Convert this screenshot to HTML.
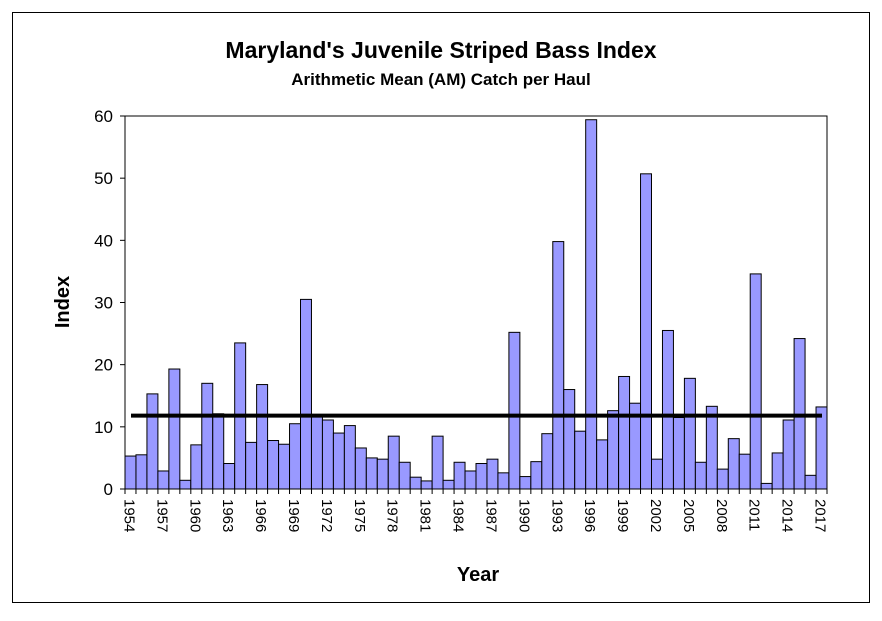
<!DOCTYPE html><html><head><style>body{margin:0;background:#fff}</style></head><body>
<svg width="882" height="616" xmlns="http://www.w3.org/2000/svg" font-family="Liberation Sans, Arial, sans-serif">
<rect x="0" y="0" width="882" height="616" fill="#fff"/>
<rect x="12.5" y="12.5" width="857" height="590" fill="none" stroke="#000" stroke-width="1"/>
<text x="441" y="58" text-anchor="middle" font-size="23" font-weight="bold">Maryland's Juvenile Striped Bass Index</text>
<text x="441" y="85" text-anchor="middle" font-size="17" font-weight="bold">Arithmetic Mean (AM) Catch per Haul</text>
<g id="g"></g>
<text x="478" y="581" text-anchor="middle" font-size="20" font-weight="bold">Year</text>
<text transform="translate(69,302) rotate(-90)" text-anchor="middle" font-size="20" font-weight="bold">Index</text>
</svg>
<script>
var v=[5.3,5.5,15.3,2.9,19.3,1.4,7.1,17.0,12.1,4.1,23.5,7.5,16.8,7.8,7.2,10.5,30.5,11.9,11.1,9.0,10.2,6.6,5.0,4.8,8.5,4.3,1.9,1.3,8.5,1.4,4.3,2.9,4.1,4.8,2.6,25.2,2.0,4.4,8.9,39.8,16.0,9.3,59.4,7.9,12.6,18.1,13.8,50.7,4.8,25.5,11.5,17.8,4.3,13.3,3.2,8.1,5.6,34.6,0.9,5.8,11.1,24.2,2.2,13.2];
var L=125,R=827,T=116,B=489,w=(R-L)/64,s=(B-T)/60,h='';
h+='<rect x="'+L+'" y="'+T+'" width="'+(R-L)+'" height="'+(B-T)+'" fill="none" stroke="#000"/>';
v.forEach(function(d,i){var x=L+i*w,y=B-d*s;h+='<rect x="'+x+'" y="'+y+'" width="'+w+'" height="'+(d*s)+'" fill="#9999ff" stroke="#000" stroke-width="1"/>';});
for(var i=0;i<=64;i++){var x=L+i*w;h+='<line x1="'+x+'" y1="'+B+'" x2="'+x+'" y2="'+(B+5)+'" stroke="#000"/>';}
for(var k=0;k<=6;k++){var y=B-k*10*s;h+='<line x1="'+(L-5)+'" y1="'+y+'" x2="'+L+'" y2="'+y+'" stroke="#000"/><text x="'+(L-12)+'" y="'+(y+6)+'" text-anchor="end" font-size="17">'+(k*10)+'</text>';}
for(var i=0;i<64;i+=3){var x=L+i*w+w/2;h+='<text transform="translate('+(x-6)+',499) rotate(90)" font-size="15">'+(1954+i)+'</text>';}
var my=B-11.8*s;h+='<line x1="131" y1="'+my+'" x2="822" y2="'+my+'" stroke="#000" stroke-width="4"/>';
document.getElementById('g').innerHTML=h;
</script>
</body></html>
